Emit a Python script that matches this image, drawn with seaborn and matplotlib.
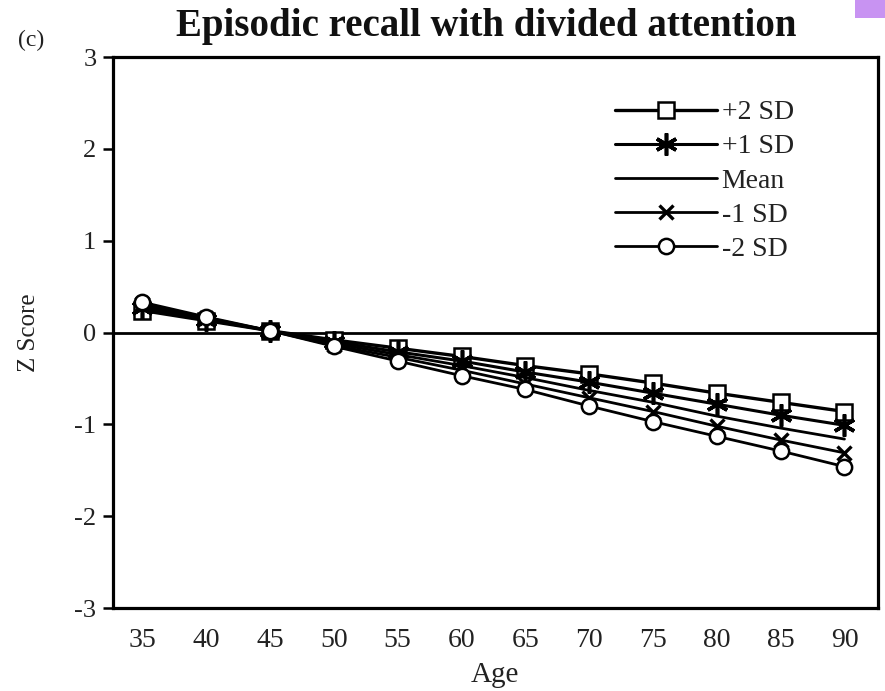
import matplotlib
matplotlib.use("Agg")
import matplotlib.pyplot as plt
import seaborn as sns
import pandas as pd
from matplotlib.patches import Rectangle

ages = [35, 40, 45, 50, 55, 60, 65, 70, 75, 80, 85, 90]
plus2 = [0.24, 0.13, 0.02, -0.08, -0.17, -0.26, -0.36, -0.45, -0.55, -0.66, -0.76, -0.86]
plus1 = [0.27, 0.14, 0.02, -0.10, -0.21, -0.31, -0.43, -0.54, -0.66, -0.78, -0.90, -1.01]
mean = [0.29, 0.15, 0.02, -0.12, -0.24, -0.36, -0.49, -0.63, -0.76, -0.91, -1.04, -1.16]
minus1 = [0.31, 0.16, 0.02, -0.14, -0.27, -0.41, -0.56, -0.71, -0.86, -1.02, -1.17, -1.31]
minus2 = [0.33, 0.17, 0.02, -0.15, -0.31, -0.47, -0.62, -0.80, -0.97, -1.13, -1.29, -1.46]
labels = ["+2 SD", "+1 SD", "Mean", "-1 SD", "-2 SD"]
y_ticks = [-3, -2, -1, 0, 1, 2, 3]

sns.set_theme(style="white")
plt.rcParams["font.family"] = ["Liberation Serif", "DejaVu Serif"]

fig = plt.figure(figsize=(8.85, 6.91), dpi=100)
ax = fig.add_axes([0.1277, 0.120, 0.864, 0.7975])

series = [plus2, plus1, mean, minus1, minus2]
styles = [
    dict(marker="s", markersize=12, markerfacecolor="white", markeredgecolor="black", markeredgewidth=1.8),
    dict(marker=(6, 2, 0), markersize=16, markeredgecolor="black", markeredgewidth=2.6),
    dict(marker=None),
    dict(marker="x", markersize=10, markeredgecolor="black", markeredgewidth=2.4),
    dict(marker="o", markersize=11, markerfacecolor="white", markeredgecolor="black", markeredgewidth=1.8),
]
widths = [2.4, 2.2, 2.0, 2.0, 2.0]
for vals, lab, st, lw in zip(series, labels, styles, widths):
    df = pd.DataFrame({"Age": ages, "Z": vals})
    sns.lineplot(data=df, x="Age", y="Z", ax=ax, color="black", linewidth=lw,
                 label=lab, **st)

ax.axhline(0, color="black", linewidth=2.0, zorder=1)

ax.set_xlim(32.7, 92.6)
ax.set_ylim(-3, 3)
ax.set_xticks(ages)
ax.set_xticklabels([str(a) for a in ages])
ax.set_yticks(y_ticks)
ax.set_yticklabels([str(t) for t in y_ticks])
ax.tick_params(axis="y", direction="out", length=7, width=1.8, color="black",
               left=True, labelsize=19, pad=5, labelcolor="#222222")
ax.tick_params(axis="x", length=0, labelsize=20, pad=14, labelcolor="#222222")
for sp in ax.spines.values():
    sp.set_color("black")
    sp.set_linewidth(2.3)
    sp.set_visible(True)

ax.set_xlabel("Age", fontsize=21, labelpad=7, color="#222222")
ax.set_ylabel("Z Score", fontsize=18, labelpad=25, color="#222222")

leg = ax.legend(loc="upper left", bbox_to_anchor=(0.656, 0.922), frameon=False,
                fontsize=20, handlelength=3.7, handletextpad=0.15, labelspacing=0.31,
                borderpad=0, borderaxespad=0)
for t in leg.get_texts():
    t.set_color("#222222")

fig.text(0.549, 0.962, "Episodic recall with divided attention", ha="center", va="center",
         fontsize=28, fontweight="bold", color="#111111")
fig.text(0.035, 0.942, "(c)", ha="center", va="center", fontsize=17, color="#222222")
fig.patches.append(Rectangle((0.966, 0.974), 0.034, 0.026, transform=fig.transFigure,
                             facecolor="#c893f2", edgecolor="none"))

fig.savefig("out.png", dpi=100)
